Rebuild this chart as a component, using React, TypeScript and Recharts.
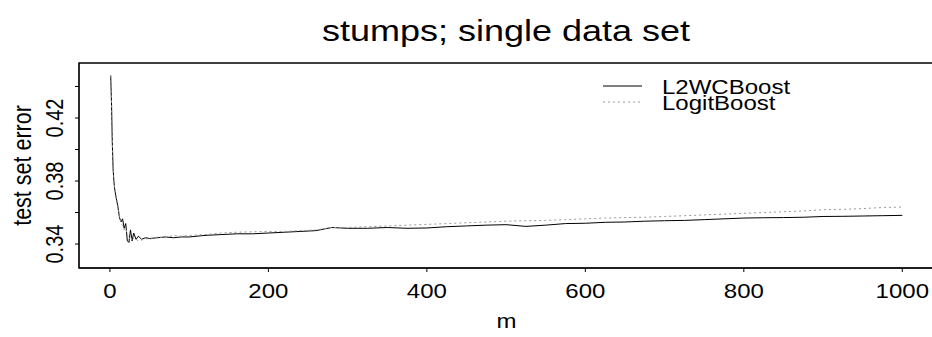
import React from 'react';
import {
  LineChart,
  Line,
  XAxis,
  YAxis,
  Legend,
  Label,
  ReferenceArea,
} from 'recharts';

const FONT = '"Liberation Sans", Arial, Helvetica, sans-serif';
const STRETCH = 1.2; // the reference text is a bit wide

// boosting iteration m
const M = [
  1, 2, 3, 4, 5, 6, 8, 10, 12, 14, 16, 18, 20, 22, 24, 26, 28, 30, 33, 36, 40, 45, 50,
  60, 70, 80, 90, 100, 120, 140, 160, 180, 200, 220, 240, 260, 280, 300, 325, 350, 375,
  400, 425, 450, 475, 500, 525, 550, 575, 600, 625, 650, 675, 700, 725, 750, 775, 800,
  825, 850, 875, 900, 925, 950, 975, 1000,
];

// test set error, L2WCBoost
const L2WC = [
  0.447, 0.43, 0.405, 0.388, 0.38, 0.375, 0.369, 0.364, 0.357, 0.354, 0.356, 0.35, 0.353,
  0.342, 0.341, 0.349, 0.342, 0.347, 0.343, 0.345, 0.343, 0.344, 0.3435, 0.344, 0.3445,
  0.344, 0.3445, 0.3445, 0.3455, 0.346, 0.3465, 0.3465, 0.347, 0.3475, 0.348, 0.3485,
  0.3505, 0.35, 0.35, 0.3505, 0.35, 0.3502, 0.351, 0.3515, 0.352, 0.3523, 0.3512, 0.352,
  0.353, 0.3532, 0.3538, 0.354, 0.3545, 0.3548, 0.355, 0.3555, 0.356, 0.3565, 0.3567,
  0.3568, 0.357, 0.3575, 0.3576, 0.3578, 0.358, 0.3582,
];

// test set error, LogitBoost
const LOGIT = [
  0.447, 0.431, 0.406, 0.389, 0.381, 0.376, 0.37, 0.365, 0.358, 0.353, 0.352, 0.349, 0.35,
  0.346, 0.343, 0.345, 0.342, 0.344, 0.343, 0.342, 0.3425, 0.3435, 0.343, 0.3445, 0.344,
  0.3455, 0.345, 0.3455, 0.346, 0.347, 0.3475, 0.3478, 0.348, 0.348, 0.3485, 0.349,
  0.3505, 0.3505, 0.351, 0.3515, 0.352, 0.3525, 0.353, 0.3535, 0.354, 0.3545, 0.3548,
  0.355, 0.3555, 0.356, 0.3565, 0.3568, 0.357, 0.3575, 0.358, 0.3585, 0.359, 0.3595, 0.36,
  0.3605, 0.361, 0.3618, 0.362, 0.3625, 0.3632, 0.3635,
];

const X_TICKS = [0, 200, 400, 600, 800, 1000];
const Y_TICKS = [0.34, 0.36, 0.38, 0.4, 0.42, 0.44];
const X_DOMAIN = [-39, 1040];
const Y_DOMAIN = [0.3248, 0.4549];

const SERIES_STYLE: Record<string, { stroke: string; dash?: string }> = {
  l2wc: { stroke: '#000' },
  logit: { stroke: '#999', dash: '2 3' },
};

const data = M.map((m, i) => ({ m, l2wc: L2WC[i], logit: LOGIT[i] }));

const XTick = (props: any) => {
  const { x, y, payload } = props;
  return (
    <text
      transform={`translate(${x},${y}) scale(${STRETCH},1)`}
      textAnchor="middle"
      fontSize={20}
      fill="#000"
    >
      {payload.value}
    </text>
  );
};

const YTick = (props: any) => {
  const { x, y, payload } = props;
  // R drops every other label when they would overlap
  if (Math.round(payload.value * 100) % 4 !== 2) return <g />;
  return (
    <text
      transform={`translate(${x},${y}) rotate(-90) scale(1,${STRETCH})`}
      textAnchor="middle"
      fontSize={20}
      fill="#000"
    >
      {payload.value.toFixed(2)}
    </text>
  );
};

const LegendBox = (props: any) => {
  const { payload } = props;
  return (
    <div style={{ position: 'relative', fontFamily: FONT, width: 300, height: 40 }}>
      {(payload || []).map((entry: any, i: number) => {
        const st = SERIES_STYLE[entry.dataKey] || { stroke: '#000' };
        return (
          <div key={entry.value} style={{ position: 'absolute', left: 0, top: i * 16, height: 16 }}>
            <svg width={40} height={16} style={{ position: 'absolute', left: 0, top: 0 }}>
              <line x1={0} x2={39} y1={8} y2={8} stroke={st.stroke} strokeDasharray={st.dash} />
            </svg>
            <span
              style={{
                position: 'absolute',
                left: 59,
                top: -1,
                fontSize: 20,
                lineHeight: '20px',
                whiteSpace: 'nowrap',
                transform: `scaleX(${STRETCH})`,
                transformOrigin: 'left',
                color: '#000',
              }}
            >
              {entry.value}
            </span>
          </div>
        );
      })}
    </div>
  );
};

export default function App() {
  return (
    <div
      style={{
        position: 'absolute',
        left: 0,
        top: 0,
        width: 932,
        height: 337,
        overflow: 'hidden',
        background: '#fff',
        fontFamily: FONT,
      }}
    >
      <div
        style={{
          position: 'absolute',
          left: 506,
          top: 16,
          fontSize: 30,
          lineHeight: '30px',
          whiteSpace: 'nowrap',
          transform: `translateX(-50%) scaleX(${STRETCH})`,
          color: '#000',
        }}
      >
        stumps; single data set
      </div>
      <LineChart
        width={936}
        height={337}
        data={data}
        margin={{ top: 63, right: 2, bottom: 68, left: 78 }}
      >
        <ReferenceArea
          x1={X_DOMAIN[0]}
          x2={X_DOMAIN[1]}
          y1={Y_DOMAIN[0]}
          y2={Y_DOMAIN[1]}
          fill="none"
          stroke="#000"
          strokeWidth={1.3}
          ifOverflow="visible"
        />
        <XAxis
          type="number"
          dataKey="m"
          domain={X_DOMAIN}
          ticks={X_TICKS}
          allowDataOverflow
          height={1}
          tickSize={4}
          tickMargin={26}
          tick={<XTick />}
          axisLine={{ stroke: '#000' }}
          tickLine={{ stroke: '#000' }}
        >
          <Label
            content={(p: any) => {
              const vb = p.viewBox || { x: 79, y: 268, width: 855 };
              return (
                <text
                  transform={`translate(${vb.x + vb.width / 2},${vb.y + 60}) scale(${STRETCH},1)`}
                  textAnchor="middle"
                  fontSize={20}
                  fill="#000"
                >
                  m
                </text>
              );
            }}
          />
        </XAxis>
        <YAxis
          type="number"
          domain={Y_DOMAIN}
          ticks={Y_TICKS}
          allowDataOverflow
          width={1}
          tickSize={4}
          tickMargin={12}
          tick={<YTick />}
          axisLine={{ stroke: '#000' }}
          tickLine={{ stroke: '#000' }}
        >
          <Label
            content={(p: any) => {
              const vb = p.viewBox || { x: 78, y: 63, height: 205 };
              return (
                <text
                  transform={`translate(31,${vb.y + vb.height / 2}) rotate(-90) scale(1,${STRETCH})`}
                  textAnchor="middle"
                  fontSize={21.5}
                  fill="#000"
                >
                  test set error
                </text>
              );
            }}
          />
        </YAxis>
        <Legend
          content={<LegendBox />}
          layout="horizontal"
          verticalAlign="middle"
          align="center"
          wrapperStyle={{ position: 'absolute', left: 603, top: 78, width: 300, height: 40 }}
        />
        <Line
          type="linear"
          dataKey="l2wc"
          name="L2WCBoost"
          stroke={SERIES_STYLE.l2wc.stroke}
          strokeWidth={1}
          dot={false}
          isAnimationActive={false}
        />
        <Line
          type="linear"
          dataKey="logit"
          name="LogitBoost"
          stroke={SERIES_STYLE.logit.stroke}
          strokeDasharray={SERIES_STYLE.logit.dash}
          strokeWidth={1}
          dot={false}
          isAnimationActive={false}
        />
      </LineChart>
    </div>
  );
}
